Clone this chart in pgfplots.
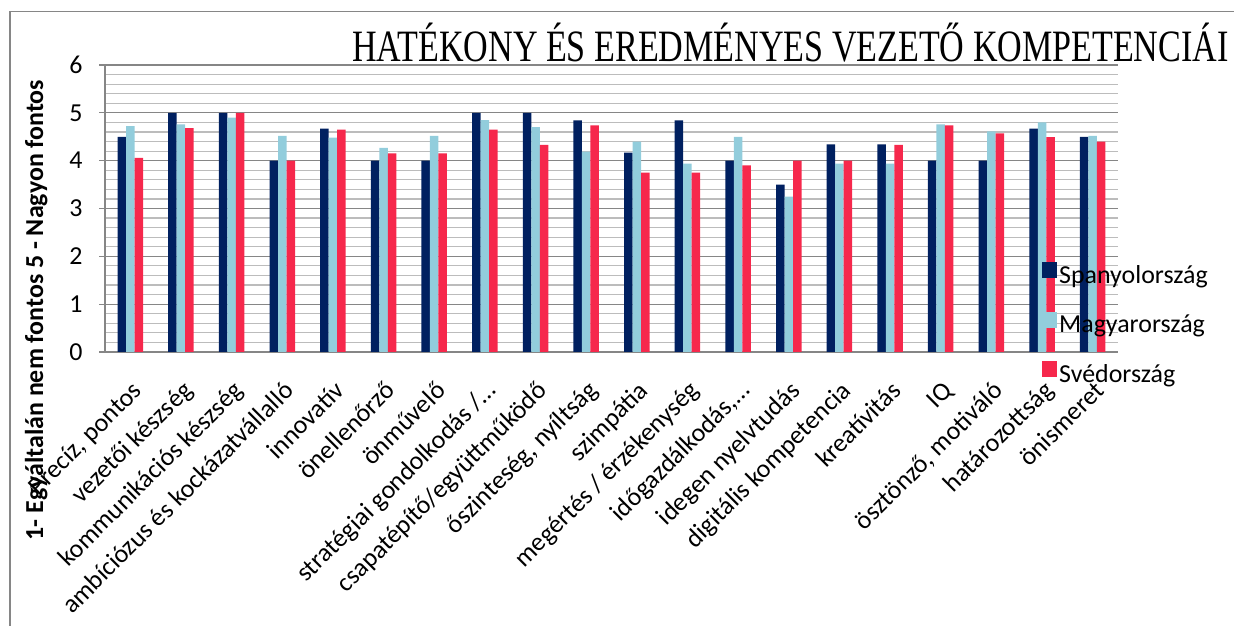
\documentclass[border=0pt]{standalone}
\usepackage{fontspec}
\setmainfont{Carlito}
\newfontfamily\titlefont{Liberation Serif}
\usepackage{graphicx}
\usepackage{pgfplots}
\pgfplotsset{compat=1.18}
\usepackage{pgfplotstable}
\definecolor{cS}{RGB}{0,32,96}
\definecolor{cM}{RGB}{146,205,220}
\definecolor{cR}{RGB}{246,40,76}
\definecolor{gmaj}{RGB}{134,134,134}
\definecolor{gmin}{RGB}{188,188,188}

\pgfplotstableread{
i S M R
1 4.50 4.72 4.06
2 5.00 4.76 4.68
3 5.00 4.90 5.00
4 4.00 4.52 4.00
5 4.67 4.48 4.65
6 4.00 4.27 4.15
7 4.00 4.52 4.15
8 5.00 4.85 4.65
9 5.00 4.70 4.33
10 4.84 4.19 4.74
11 4.17 4.40 3.75
12 4.84 3.94 3.75
13 4.00 4.50 3.90
14 3.50 3.25 4.00
15 4.34 3.94 4.00
16 4.34 3.94 4.33
17 4.00 4.76 4.74
18 4.00 4.61 4.57
19 4.67 4.80 4.49
20 4.50 4.52 4.40
}\data

\begin{document}
\begin{tikzpicture}
\path[use as bounding box] (0,0) rectangle (1234bp,626bp);
\draw[gmaj, line width=1.5bp] (10bp,0) -- (10bp,614.3bp) -- (1234bp,614.3bp);
\begin{axis}[
  at={(105bp,274bp)}, anchor=south west,
  scale only axis, width=1013bp, height=287bp,
  ybar=0pt, bar width=8.5bp,
  xmin=0.5, xmax=20.5, ymin=0, ymax=6,
  xtick={1,...,20},
  xticklabels={{Precíz, pontos},{vezetői készség},{kommunikációs készség},{ambíciózus és kockázatvállalló},{innovatív},{önellenőrző},{önművelő},{stratégiai gondolkodás /…},{csapatépítő/együttműködő},{őszinteség, nyíltság},{szimpátia},{megértés / érzékenység},{időgazdálkodás,…},{idegen nyelvtudás},{digitális kompetencia},{kreatívitás},{IQ},{ösztönző, motiváló},{határozottság},{önismeret}},
  ytick={0,...,6},
  minor y tick num=4,
  ymajorgrids, yminorgrids,
  major grid style={gmaj, line width=1.3bp},
  minor grid style={gmin, line width=1.2bp},
  axis x line*=bottom, axis y line*=left,
  x axis line style={gmaj, line width=1.6bp, -},
  y axis line style={gmaj, line width=1.2bp, -},
  tick align=outside,
  ytick style={gmaj, line width=1.2bp},
  major tick length=6bp,
  minor tick length=0bp,
  xtick style={draw=none},
  tick label style={font=\fontsize{26}{31}\selectfont},
  /pgf/number format/assume math mode=true,
  yticklabel style={xshift=-13bp},
  xticklabel style={rotate=45, anchor=north east, inner sep=0pt, text height=18bp, text depth=6bp, xshift=-15bp, yshift=-15bp},
  ylabel={1- Egyáltalán nem fontos 5 - Nagyon fontos},
  every axis y label/.style={at={(axis description cs:-0.068,0.146)}, rotate=90, anchor=center, font=\bfseries\fontsize{26}{31}\selectfont},
  legend style={at={(0.925,0.314)}, anchor=north west, draw=none, fill=none, font=\fontsize{26}{31}\selectfont, row sep=25bp, inner sep=0pt},
  legend cell align=left,
  legend image code/.code={\fill[#1] (0bp,-3bp) rectangle (15bp,13bp);},
]
\addplot[fill=cS, draw=none] table[x=i, y=S] {\data};
\addplot[fill=cM, draw=none] table[x=i, y=M] {\data};
\addplot[fill=cR, draw=none] table[x=i, y=R] {\data};
\legend{Spanyolország, Magyarország, Svédország}
\end{axis}
\node[anchor=base west, inner sep=0pt] at (352bp,564.3bp) {\titlefont\fontsize{45}{54}\selectfont\scalebox{0.76}[1]{HATÉKONY ÉS EREDMÉNYES VEZETŐ KOMPETENCIÁI}};
\end{tikzpicture}
\end{document}
